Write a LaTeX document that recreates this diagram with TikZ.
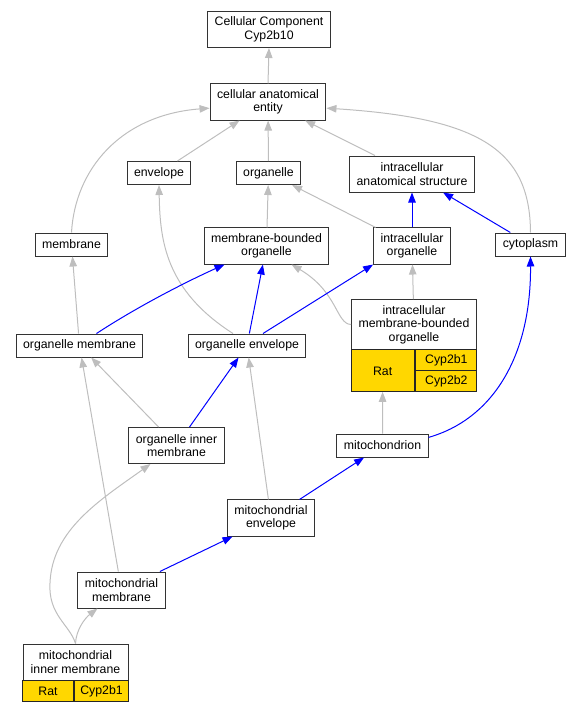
\documentclass[tikz,border=0pt]{standalone}
\usepackage{fontspec}
\setmainfont{Liberation Sans}
\usetikzlibrary{arrows.meta}
\definecolor{isagris}{HTML}{BEBEBE}
\definecolor{azul}{HTML}{0000FF}
\definecolor{oro}{HTML}{FFD700}
\tikzset{
  termino/.style={draw=black!80, line width=1pt, fill=white, align=center,
    inner xsep=7pt, inner ysep=5.5pt, minimum height=23pt,
    font=\fontsize{12.3}{13.6}\selectfont},
  alto/.style={minimum height=36pt},
  celda/.style={draw=black!85, line width=1pt, fill=oro, inner sep=0pt, outer sep=0pt,
    font=\fontsize{12.3}{13.6}\selectfont},
  esun/.style={color=isagris, line width=1pt, -{Triangle[length=10pt,width=7.5pt]}},
  partede/.style={color=azul, line width=1pt, -{Triangle[length=10pt,width=7.5pt]}},
}
\begin{document}
\begin{tikzpicture}[x=1pt,y=-1pt]
    \useasboundingbox (0,0) rectangle (580,712);

    % Dibuja los terminos
    \node[termino,alto] (ccc) at (269,29.5) {Cellular Component\\Cyp2b10};
    \node[termino,alto] (cae) at (268,102) {cellular anatomical\\entity};
    \node[termino] (envelope) at (159,173) {envelope};
    \node[termino] (organelle) at (268.5,173) {organelle};
    \node[termino,alto] (ias) at (412,174) {intracellular\\anatomical structure};
    \node[termino] (membrane) at (71.5,244.5) {membrane};
    \node[termino,alto] (mbo) at (266.5,246) {membrane-bounded\\organelle};
    \node[termino,alto] (io) at (412,246) {intracellular\\organelle};
    \node[termino] (cytoplasm) at (530.5,244.5) {cytoplasm};
    \node[termino] (om) at (79.5,345.5) {organelle membrane};
    \node[termino] (oe) at (247,345.5) {organelle envelope};
    \node[termino,minimum width=124pt,minimum height=49pt] (imbo) at (414,324.5)
        {intracellular\\membrane-bounded\\organelle};
    \node[termino] (mito) at (382.5,445.5) {mitochondrion};
    \node[termino,alto] (oim) at (176.5,445.5) {organelle inner\\membrane};
    \node[termino,alto] (me) at (271,518) {mitochondrial\\envelope};
    \node[termino,alto] (mm) at (121.5,590) {mitochondrial\\membrane};
    \node[termino,alto,minimum width=105pt] (mim) at (75.5,662) {mitochondrial\\inner membrane};

    % Dibuja las tablas de genes
    \node[celda,minimum width=63pt,minimum height=42pt,anchor=north west] (imboRat) at (imbo.south west) {Rat};
    \node[celda,minimum width=61pt,minimum height=21pt,anchor=north east] (imboB1) at (imbo.south east) {Cyp2b1};
    \node[celda,minimum width=61pt,minimum height=21pt,anchor=north west] (imboB2) at (imboB1.south west) {Cyp2b2};
    \node[celda,minimum width=51pt,minimum height=21pt,anchor=north west] (mimRat) at (mim.south west) {Rat};
    \node[celda,minimum width=54pt,minimum height=21pt,anchor=north east] (mimB1) at (mim.south east) {Cyp2b1};

    % Dibuja las relaciones is_a
    \draw[esun] (cae.north) -- (ccc.south);
    \draw[esun] (envelope) -- (cae);
    \draw[esun] (organelle) -- (cae);
    \draw[esun] (ias) -- (cae);
    \draw[esun] (membrane.north) .. controls (75,170) and (120,115) .. (cae.186);
    \draw[esun] (cytoplasm.north) .. controls (530,150) and (480,118) .. (cae.354);
    \draw[esun] ([xshift=-14pt]oe.north) .. controls (165,290) and (160,240) .. (envelope.south);
    \draw[esun] (io) -- (organelle);
    \draw[esun] (mbo) -- (organelle);
    \draw[esun] (om) -- (membrane);
    \draw[esun] (imbo.west) .. controls (336,324) and (338,292) .. ([xshift=25pt]mbo.south);
    \draw[esun] (imbo) -- (io);
    \draw[esun] (mito.north) -- (imboRat.south);
    \draw[esun] (oim) -- (om);
    \draw[esun] (mm) -- (om);
    \draw[esun] (me) -- (oe);
    \draw[esun] (mim.north) .. controls (70,625) and (48,615) .. (50,583)
        .. controls (52,530) and (100,500) .. ([xshift=-26pt]oim.south);
    \draw[esun] (mim.north) .. controls (76,630) and (85,618) .. ([xshift=-24pt]mm.south);

    % Dibuja las relaciones part_of
    \draw[partede] (io.north) -- (ias.south);
    \draw[partede] (cytoplasm) -- (ias);
    \draw[partede] ([xshift=17pt]om.north) .. controls (140,305) and (190,280) .. ([xshift=-42pt]mbo.south);
    \draw[partede] (oe) -- (mbo);
    \draw[partede] ([xshift=16pt]oe.north) -- (io.south west);
    \draw[partede] (oim) -- (oe);
    \draw[partede] (mito.10) .. controls (490,420) and (531,360) .. (cytoplasm.south);
    \draw[partede] (me) -- (mito);
    \draw[partede] (mm) -- (me);
\end{tikzpicture}
\end{document}
